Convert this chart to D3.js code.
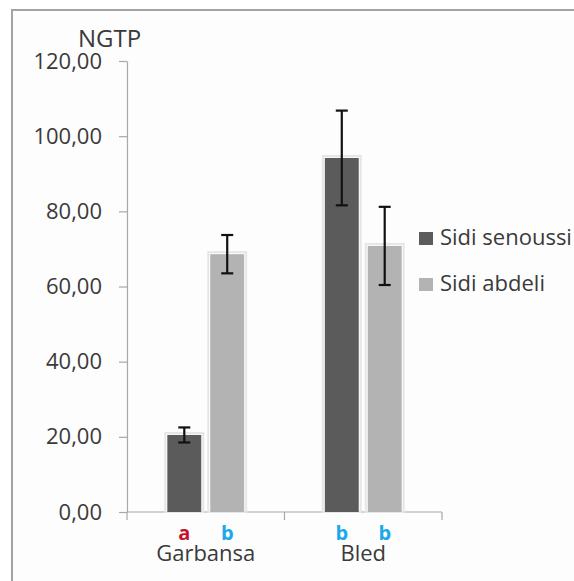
<!DOCTYPE html>
<html>
<head>
<meta charset="utf-8">
<script src="https://cdn.jsdelivr.net/npm/d3@7"></script>
<style>
  body { margin: 0; background: #fff; }
  text { font-family: "Open Sans", sans-serif; fill: #3a3a3a; }
</style>
</head>
<body>
<svg></svg>
<script>
const categories = ["Garbansa", "Bled"];
const series = ["Sidi senoussi", "Sidi abdeli"];
const means = [[20.5, 68.6], [94.2, 70.8]];
const errors = [[2.0, 5.1], [12.6, 10.4]];
const letters = [["a", "b"], ["b", "b"]];
const letterColors = { a: "#c8102e", b: "#1aa9ec" };
const yTicks = [0, 20, 40, 60, 80, 100, 120];
const colors = ["#5b5b5b", "#b3b3b3"];

const svg = d3.select("svg").attr("width", 574).attr("height", 581);

// chart frame
svg.append("rect").attr("x", 12).attr("y", 10).attr("width", 580).attr("height", 590)
  .attr("fill", "#fdfdfd").attr("stroke", "#a3a3a3").attr("stroke-width", 2);

const y = d3.scaleLinear().domain([0, 120]).range([512, 61]);
const x = d3.scaleBand().domain(categories).range([127, 442]);
const xs = d3.scaleBand().domain(series).range([0, x.bandwidth()])
  .paddingInner(0.21).paddingOuter(0.94);

const fmt = d3.formatLocale({ decimal: ",", thousands: " ", grouping: [3], currency: ["", ""] }).format(".2f");

// y axis
const yAxis = svg.append("g").attr("transform", "translate(127,0)")
  .call(d3.axisLeft(y).tickValues(yTicks).tickFormat(fmt).tickSize(8).tickSizeOuter(0).tickPadding(17));
yAxis.selectAll("path, line").attr("stroke", "#a8a8a8").attr("stroke-width", 1.2);
yAxis.selectAll("text").attr("font-size", 22).style("font-family", "Open Sans").attr("fill", "#3a3a3a");

// x axis
svg.append("line").attr("x1", 127).attr("x2", 442).attr("y1", y(0)).attr("y2", y(0))
  .attr("stroke", "#a8a8a8").attr("stroke-width", 1.2);
const bounds = [x(categories[0])].concat(categories.map(c => x(c) + x.bandwidth()));
svg.selectAll(".xtick").data(bounds).enter().append("line")
  .attr("x1", d => d).attr("x2", d => d).attr("y1", y(0)).attr("y2", y(0) + 8)
  .attr("stroke", "#a8a8a8").attr("stroke-width", 1.2);

svg.selectAll(".cat").data(categories).enter().append("text")
  .attr("x", d => x(d) + x.bandwidth() / 2).attr("y", 561)
  .attr("text-anchor", "middle").attr("font-size", 22).text(d => d);

// bars
const groups = svg.selectAll(".grp").data(categories).enter().append("g")
  .attr("transform", d => `translate(${x(d)},0)`);

groups.each(function (cat, ci) {
  const g = d3.select(this);
  series.forEach((s, si) => {
    const v = means[ci][si], e = errors[ci][si];
    const bx = xs(s), bw = xs.bandwidth();
    g.append("rect").attr("x", bx - 2).attr("y", y(v) - 2)
      .attr("width", bw + 4).attr("height", y(0) - y(v) + 2)
      .attr("fill", "none").attr("stroke", "#e6e6e6").attr("stroke-width", 2);
    g.append("rect").attr("x", bx).attr("y", y(v))
      .attr("width", bw).attr("height", y(0) - y(v))
      .attr("fill", colors[si]);
    const cx = bx + bw / 2;
    g.append("line").attr("x1", cx).attr("x2", cx).attr("y1", y(v + e)).attr("y2", y(v - e))
      .attr("stroke", "#111").attr("stroke-width", 2.2);
    [v + e, v - e].forEach(t => {
      g.append("line").attr("x1", cx - 6).attr("x2", cx + 6).attr("y1", y(t)).attr("y2", y(t))
        .attr("stroke", "#111").attr("stroke-width", 2.2);
    });
    const l = letters[ci][si];
    g.append("text").attr("x", cx).attr("y", 540).attr("text-anchor", "middle")
      .attr("font-size", 20).attr("font-weight", "bold")
      .style("fill", letterColors[l]).text(l);
  });
});

// y title
svg.append("text").attr("x", 78).attr("y", 47).attr("font-size", 24).text("NGTP");

// legend
const legend = svg.selectAll(".leg").data(series).enter().append("g")
  .attr("transform", (d, i) => `translate(419,${232 + i * 46})`);
legend.append("rect").attr("width", 14).attr("height", 13).attr("fill", (d, i) => colors[i]);
legend.append("text").attr("x", 21).attr("y", 13).attr("font-size", 22).text(d => d);
</script>
</body>
</html>
